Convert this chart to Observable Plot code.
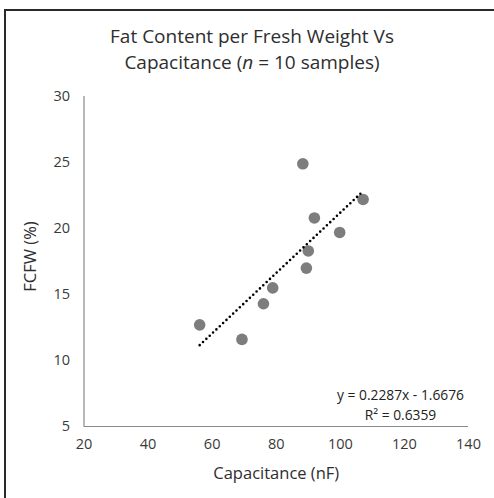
<!DOCTYPE html>
<html>
<head>
<meta charset="utf-8">
<script src="https://cdn.jsdelivr.net/npm/d3@7"></script>
<script src="https://cdn.jsdelivr.net/npm/@observablehq/plot@0.6"></script>
<style>
  html, body { margin: 0; padding: 0; background: #fff; }
  #wrap { position: relative; width: 494px; height: 498px; overflow: hidden; font-family: "Open Sans", sans-serif; }
  #frame { position: absolute; left: 4px; top: 9px; right: -4px; bottom: -4px; border-left: 2px solid #2a2a2a; border-top: 2px solid #2a2a2a; }
  #title { position: absolute; top: 23px; left: 10px; width: 484px; text-align: center; font-size: 19px; line-height: 26px; color: #2e2e2e; }
  #chart { position: absolute; top: 80px; left: 0; }
</style>
</head>
<body>
<div id="wrap">
  <div id="frame"></div>
  <div id="title">Fat Content per Fresh Weight Vs<br>Capacitance (<i>n</i> = 10 samples)</div>
  <div id="chart"></div>
</div>
<script>
const capacitance = [56.1, 69.3, 76.0, 78.9, 88.3, 107.1, 91.9, 99.8, 90.0, 89.4];
const fcfw        = [12.7, 11.6, 14.3, 15.5, 24.9, 22.2, 20.8, 19.7, 18.3, 17.0];
const xTicks = [20, 40, 60, 80, 100, 120, 140];
const yTicks = [5, 10, 15, 20, 25, 30];
const slope = 0.2287;
const intercept = -1.6676;
const rSquared = 0.6359;
const xLabel = "Capacitance (nF)";
const yLabel = "FCFW (%)";

const points = capacitance.map((x, i) => ({x, y: fcfw[i]}));
const xExtent = d3.extent(capacitance);
const trend = xExtent.map(x => ({x, y: slope * x + intercept}));
const eqText = `y = ${slope}x - ${Math.abs(intercept)}\nR² = ${rSquared}`;

const chart = Plot.plot({
  width: 494,
  height: 418,
  marginLeft: 83.5,
  marginRight: 26,
  marginTop: 16,
  marginBottom: 72,
  style: { fontFamily: "Open Sans, sans-serif", background: "transparent", overflow: "visible" },
  x: { domain: [20, 140] },
  y: { domain: [5, 30] },
  marks: [
    Plot.ruleX([20], { stroke: "#8a8a8a", strokeWidth: 1.2 }),
    Plot.ruleY([5], { stroke: "#8a8a8a", strokeWidth: 1.2 }),
    Plot.axisX({ ticks: xTicks, tickSize: 0, tickPadding: 12, fontSize: 14.5, color: "#3a3a3a", label: null }),
    Plot.axisY({ ticks: yTicks, tickSize: 0, tickPadding: 14, fontSize: 14.5, color: "#3a3a3a", label: null }),
    Plot.text([xLabel], { frameAnchor: "bottom", dy: 47, lineAnchor: "middle", fontSize: 16.5, fill: "#2e2e2e" }),
    Plot.text([yLabel], { frameAnchor: "left", dx: -53.5, dy: -5, rotate: -90, lineAnchor: "middle", textAnchor: "middle", fontSize: 16.5, fill: "#2e2e2e" }),
    Plot.dot(points, { x: "x", y: "y", r: 5.8, fill: "#7d7d7d", stroke: "none" }),
    Plot.line(trend, { x: "x", y: "y", stroke: "#000", strokeWidth: 2.6, strokeDasharray: "0 4.6", strokeLinecap: "round" }),
    Plot.text([eqText], { frameAnchor: "bottom-right", dx: -68, dy: -23, textAnchor: "middle", lineAnchor: "middle",
      lineHeight: 1.45, fontSize: 13.8, fill: "#222" })
  ]
});
document.getElementById("chart").appendChild(chart);
</script>
</body>
</html>
